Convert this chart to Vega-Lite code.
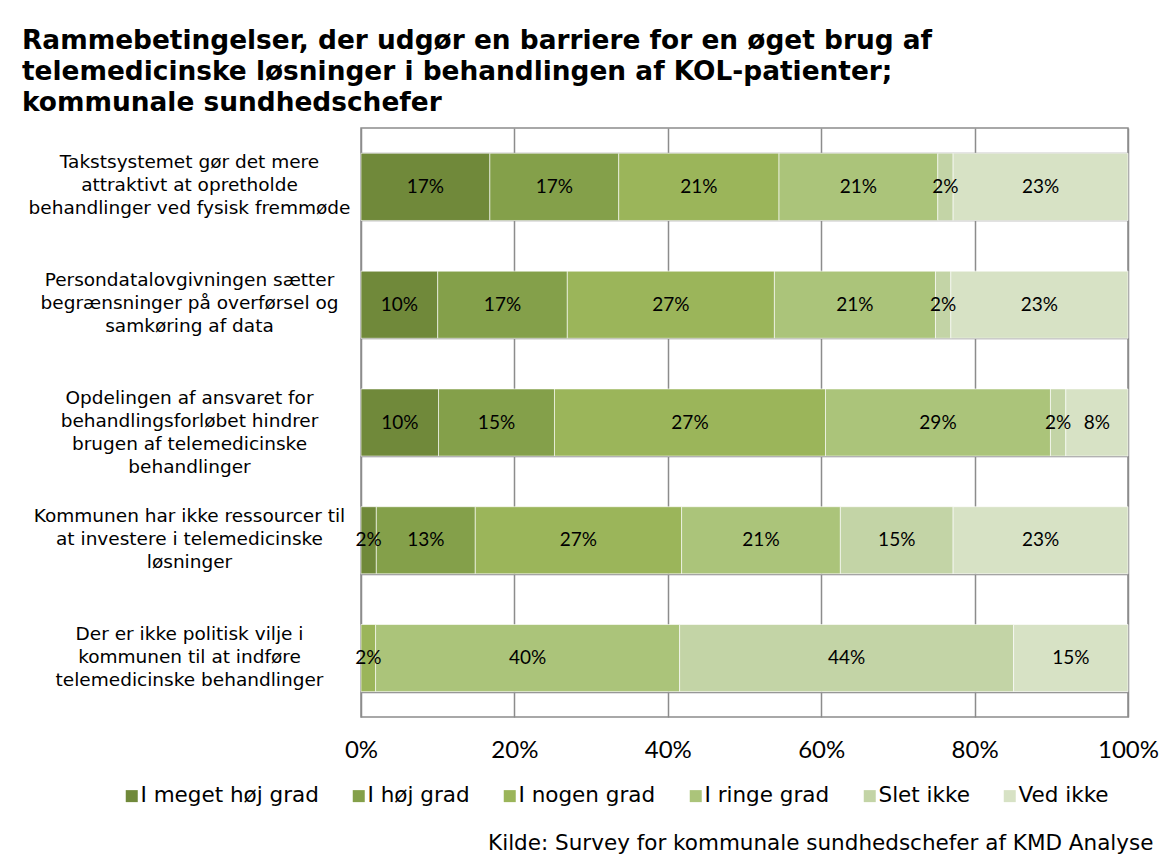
{
  "$schema": "https://vega.github.io/schema/vega-lite/v6.json",
  "width": 767,
  "height": 589,
  "autosize": {"type": "none"},
  "padding": {"left": 361, "top": 128, "right": 34, "bottom": 142},
  "background": "white",
  "config": {"view": {"stroke": "#8C8C8C", "strokeWidth": 1.5}},
  "title": {
    "text": ["Rammebetingelser, der udgør en barriere for en øget brug af", "telemedicinske løsninger i behandlingen af KOL-patienter;", "kommunale sundhedschefer"],
    "anchor": "start",
    "frame": "group",
    "dx": -339,
    "offset": 3,
    "font": "DejaVu Sans",
    "fontSize": 26.4,
    "fontWeight": "bold",
    "color": "black",
    "lineHeight": 31
  },
  "data": {
    "values": [
      {"barrier": "Takstsystemet gør det mere\nattraktivt at opretholde\nbehandlinger ved fysisk fremmøde", "series": "I meget høj grad", "n": 1, "value": 16.8, "label": "17%"},
      {"barrier": "Takstsystemet gør det mere\nattraktivt at opretholde\nbehandlinger ved fysisk fremmøde", "series": "I høj grad", "n": 2, "value": 16.8, "label": "17%"},
      {"barrier": "Takstsystemet gør det mere\nattraktivt at opretholde\nbehandlinger ved fysisk fremmøde", "series": "I nogen grad", "n": 3, "value": 20.9, "label": "21%"},
      {"barrier": "Takstsystemet gør det mere\nattraktivt at opretholde\nbehandlinger ved fysisk fremmøde", "series": "I ringe grad", "n": 4, "value": 20.7, "label": "21%"},
      {"barrier": "Takstsystemet gør det mere\nattraktivt at opretholde\nbehandlinger ved fysisk fremmøde", "series": "Slet ikke", "n": 5, "value": 2.0, "label": "2%"},
      {"barrier": "Takstsystemet gør det mere\nattraktivt at opretholde\nbehandlinger ved fysisk fremmøde", "series": "Ved ikke", "n": 6, "value": 22.8, "label": "23%"},
      {"barrier": "Persondatalovgivningen sætter\nbegrænsninger på overførsel og\nsamkøring af data", "series": "I meget høj grad", "n": 1, "value": 10.0, "label": "10%"},
      {"barrier": "Persondatalovgivningen sætter\nbegrænsninger på overførsel og\nsamkøring af data", "series": "I høj grad", "n": 2, "value": 16.9, "label": "17%"},
      {"barrier": "Persondatalovgivningen sætter\nbegrænsninger på overførsel og\nsamkøring af data", "series": "I nogen grad", "n": 3, "value": 27.0, "label": "27%"},
      {"barrier": "Persondatalovgivningen sætter\nbegrænsninger på overførsel og\nsamkøring af data", "series": "I ringe grad", "n": 4, "value": 21.0, "label": "21%"},
      {"barrier": "Persondatalovgivningen sætter\nbegrænsninger på overførsel og\nsamkøring af data", "series": "Slet ikke", "n": 5, "value": 2.0, "label": "2%"},
      {"barrier": "Persondatalovgivningen sætter\nbegrænsninger på overførsel og\nsamkøring af data", "series": "Ved ikke", "n": 6, "value": 23.1, "label": "23%"},
      {"barrier": "Opdelingen af ansvaret for\nbehandlingsforløbet hindrer\nbrugen af telemedicinske\nbehandlinger", "series": "I meget høj grad", "n": 1, "value": 10.1, "label": "10%"},
      {"barrier": "Opdelingen af ansvaret for\nbehandlingsforløbet hindrer\nbrugen af telemedicinske\nbehandlinger", "series": "I høj grad", "n": 2, "value": 15.1, "label": "15%"},
      {"barrier": "Opdelingen af ansvaret for\nbehandlingsforløbet hindrer\nbrugen af telemedicinske\nbehandlinger", "series": "I nogen grad", "n": 3, "value": 35.3, "label": "27%"},
      {"barrier": "Opdelingen af ansvaret for\nbehandlingsforløbet hindrer\nbrugen af telemedicinske\nbehandlinger", "series": "I ringe grad", "n": 4, "value": 29.3, "label": "29%"},
      {"barrier": "Opdelingen af ansvaret for\nbehandlingsforløbet hindrer\nbrugen af telemedicinske\nbehandlinger", "series": "Slet ikke", "n": 5, "value": 2.0, "label": "2%"},
      {"barrier": "Opdelingen af ansvaret for\nbehandlingsforløbet hindrer\nbrugen af telemedicinske\nbehandlinger", "series": "Ved ikke", "n": 6, "value": 8.1, "label": "8%"},
      {"barrier": "Kommunen har ikke ressourcer til\nat investere i telemedicinske\nløsninger", "series": "I meget høj grad", "n": 1, "value": 2.0, "label": "2%"},
      {"barrier": "Kommunen har ikke ressourcer til\nat investere i telemedicinske\nløsninger", "series": "I høj grad", "n": 2, "value": 12.9, "label": "13%"},
      {"barrier": "Kommunen har ikke ressourcer til\nat investere i telemedicinske\nløsninger", "series": "I nogen grad", "n": 3, "value": 26.9, "label": "27%"},
      {"barrier": "Kommunen har ikke ressourcer til\nat investere i telemedicinske\nløsninger", "series": "I ringe grad", "n": 4, "value": 20.7, "label": "21%"},
      {"barrier": "Kommunen har ikke ressourcer til\nat investere i telemedicinske\nløsninger", "series": "Slet ikke", "n": 5, "value": 14.7, "label": "15%"},
      {"barrier": "Kommunen har ikke ressourcer til\nat investere i telemedicinske\nløsninger", "series": "Ved ikke", "n": 6, "value": 22.8, "label": "23%"},
      {"barrier": "Der er ikke politisk vilje i\nkommunen til at indføre\ntelemedicinske behandlinger", "series": "I nogen grad", "n": 3, "value": 1.9, "label": "2%"},
      {"barrier": "Der er ikke politisk vilje i\nkommunen til at indføre\ntelemedicinske behandlinger", "series": "I ringe grad", "n": 4, "value": 39.6, "label": "40%"},
      {"barrier": "Der er ikke politisk vilje i\nkommunen til at indføre\ntelemedicinske behandlinger", "series": "Slet ikke", "n": 5, "value": 43.5, "label": "44%"},
      {"barrier": "Der er ikke politisk vilje i\nkommunen til at indføre\ntelemedicinske behandlinger", "series": "Ved ikke", "n": 6, "value": 14.9, "label": "15%"}
    ]
  },
  "transform": [
    {"stack": "value", "groupby": ["barrier"], "sort": [{"field": "n", "order": "ascending"}], "offset": "normalize", "as": ["x0", "x1"]},
    {"calculate": "(datum.x0 + datum.x1) / 2", "as": "xmid"}
  ],
  "encoding": {
    "y": {
      "field": "barrier",
      "type": "nominal",
      "sort": [
        "Takstsystemet gør det mere\nattraktivt at opretholde\nbehandlinger ved fysisk fremmøde",
        "Persondatalovgivningen sætter\nbegrænsninger på overførsel og\nsamkøring af data",
        "Opdelingen af ansvaret for\nbehandlingsforløbet hindrer\nbrugen af telemedicinske\nbehandlinger",
        "Kommunen har ikke ressourcer til\nat investere i telemedicinske\nløsninger",
        "Der er ikke politisk vilje i\nkommunen til at indføre\ntelemedicinske behandlinger"
      ],
      "scale": {"paddingInner": 0.43, "paddingOuter": 0.215},
      "axis": {
        "title": null,
        "domain": false,
        "ticks": false,
        "grid": true,
        "tickBand": "extent",
        "gridColor": "#8C8C8C",
        "gridWidth": 1.5,
        "labelExpr": "split(datum.label, '\\n')",
        "labelAlign": "center",
        "labelBaseline": "middle",
        "labelPadding": 172,
        "labelOffset": -25,
        "labelFont": "DejaVu Sans",
        "labelFontSize": 18.5,
        "labelColor": "black",
        "labelLineHeight": 23,
        "labelLimit": 400
      }
    }
  },
  "layer": [
    {
      "mark": {"type": "bar", "stroke": "white", "strokeWidth": 1, "strokeOpacity": 0.6},
      "encoding": {
        "x": {
          "field": "x0",
          "type": "quantitative",
          "scale": {"domain": [0, 1]},
          "axis": {
            "format": "%",
            "values": [0, 0.2, 0.4, 0.6, 0.8, 1],
            "grid": true,
            "gridColor": "#8C8C8C",
            "gridWidth": 1.5,
            "domain": false,
            "ticks": false,
            "labelFlush": false,
            "labelOverlap": false,
            "labelFont": "Lato",
            "labelFontSize": 24,
            "labelColor": "black",
            "labelPadding": 21,
            "labelBaseline": "top",
            "title": "Kilde: Survey for kommunale sundhedschefer af KMD Analyse",
            "titleFont": "DejaVu Sans",
            "titleFontSize": 21.5,
            "titleFontWeight": "normal",
            "titleColor": "black",
            "titleAnchor": "end",
            "titleAlign": "right",
            "titleX": 792,
            "titleY": 126,
            "titleBaseline": "middle"
          }
        },
        "x2": {"field": "x1"},
        "color": {
          "field": "series",
          "type": "nominal",
          "scale": {
            "domain": ["I meget høj grad", "I høj grad", "I nogen grad", "I ringe grad", "Slet ikke", "Ved ikke"],
            "range": ["#70893A", "#84A04A", "#9BB55A", "#ABC47A", "#C3D4A6", "#D7E2C5"]
          },
          "legend": {
            "orient": "none",
            "legendX": -240,
            "legendY": 657,
            "direction": "horizontal",
            "columns": 6,
            "title": null,
            "padding": 0,
            "symbolType": "square",
            "symbolSize": 144,
            "symbolStrokeWidth": 0,
            "labelFont": "DejaVu Sans",
            "labelFontSize": 21.5,
            "labelColor": "black",
            "labelLimit": 300,
            "labelOffset": -2,
            "columnPadding": 29
          }
        }
      }
    },
    {
      "mark": {"type": "text", "font": "Lato", "fontSize": 19, "color": "black"},
      "encoding": {
        "x": {"field": "xmid", "type": "quantitative"},
        "text": {"field": "label"}
      }
    }
  ]
}
